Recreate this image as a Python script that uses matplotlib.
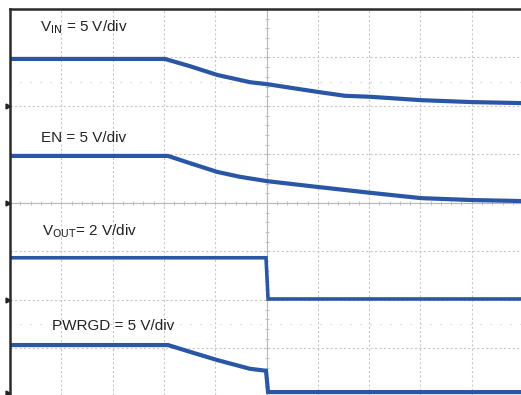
import matplotlib.pyplot as plt
import numpy as np

# screen units: divisions (10 across, 8 down)
vin_t = [0, 3.02, 3.51, 4.04, 4.68, 5.01, 6.0, 6.53, 7.02, 8.01, 9.01, 9.96]
vin_y = [6.97, 6.97, 6.82, 6.64, 6.49, 6.45, 6.29, 6.21, 6.19, 6.12, 6.08, 6.06]

en_t = [0, 3.08, 3.51, 4.04, 4.48, 5.01, 6.0, 7.02, 8.01, 9.01, 9.96]
en_y = [4.97, 4.97, 4.82, 4.64, 4.54, 4.45, 4.33, 4.21, 4.10, 4.06, 4.04]

vout_t = [0, 4.99, 5.03, 9.96]
vout_y = [2.87, 2.87, 2.02, 2.02]

pg_t = [0, 3.08, 3.51, 4.04, 4.68, 4.99, 5.03, 9.96]
pg_y = [1.07, 1.07, 0.93, 0.76, 0.58, 0.54, 0.10, 0.10]

gnd_levels = [6, 4, 2, 0.08]

labels = [
    (0.58, 7.62, r'V$_{\mathrm{IN}}$ = 5 V/div'),
    (0.6, 5.35, 'EN = 5 V/div'),
    (0.62, 3.42, r'V$_{\mathrm{OUT}}$= 2 V/div'),
    (0.82, 1.46, 'PWRGD = 5 V/div'),
]

trace_color = '#2a56a6'
grid_color = '#c8c8c8'
frame_color = '#2b2b2b'

plt.rcParams['font.family'] = ['Liberation Sans', 'DejaVu Sans']
plt.rcParams['mathtext.default'] = 'regular'

fig = plt.figure(figsize=(5.21, 3.95), dpi=100)
ax = fig.add_axes([10 / 521, 0, 1 - 10 / 521, 1 - 9 / 395])
ax.set_xlim(0, 9.96)
ax.set_ylim(0.04, 8)

# graticule
for gx in range(1, 10):
    ax.axvline(gx, color=grid_color, lw=0.8, ls=(0, (2, 2)), zorder=0)
for gy in range(1, 8):
    ax.axhline(gy, color=grid_color, lw=0.8, ls=(0, (2, 2)), zorder=0)
for gy in [6.5, 1.5]:
    ax.axhline(gy, color=grid_color, lw=0.8, ls=(0, (1, 8)), zorder=0)

# centre crosshair with minor ticks
ax.axvline(5, color='#b8b8b8', lw=0.8, zorder=0)
ax.axhline(4, color='#b8b8b8', lw=0.8, zorder=0)
minor = np.arange(0, 10.01, 0.2)
ax.plot(minor, np.full_like(minor, 4), ls='none', marker='|', ms=3, color='#b8b8b8', mew=0.6, zorder=0)
minor_y = np.arange(0, 8.01, 0.2)
ax.plot(np.full_like(minor_y, 5), minor_y, ls='none', marker='_', ms=3, color='#b8b8b8', mew=0.6, zorder=0)

# traces
ax.plot(vin_t, vin_y, color=trace_color, lw=3.0, solid_joinstyle='round')
ax.plot(en_t, en_y, color=trace_color, lw=3.0, solid_joinstyle='round')
ax.plot(vout_t, vout_y, color=trace_color, lw=2.6, solid_joinstyle='miter')
ax.plot(pg_t, pg_y, color=trace_color, lw=3.0, solid_joinstyle='miter')

for x, y, s in labels:
    ax.text(x, y, s, fontsize=11, color='#222222', va='center', ha='left')

# channel ground markers at left edge
ax.plot(np.full(len(gnd_levels), -0.04), gnd_levels, ls='none', marker='>', ms=3.5,
        color='#222222', clip_on=False)

for side in ['right', 'bottom']:
    ax.spines[side].set_visible(False)
for side in ['top', 'left']:
    ax.spines[side].set_color(frame_color)
    ax.spines[side].set_linewidth(1.8)
ax.set_xticks([])
ax.set_yticks([])

fig.savefig('out.png', dpi=100)
